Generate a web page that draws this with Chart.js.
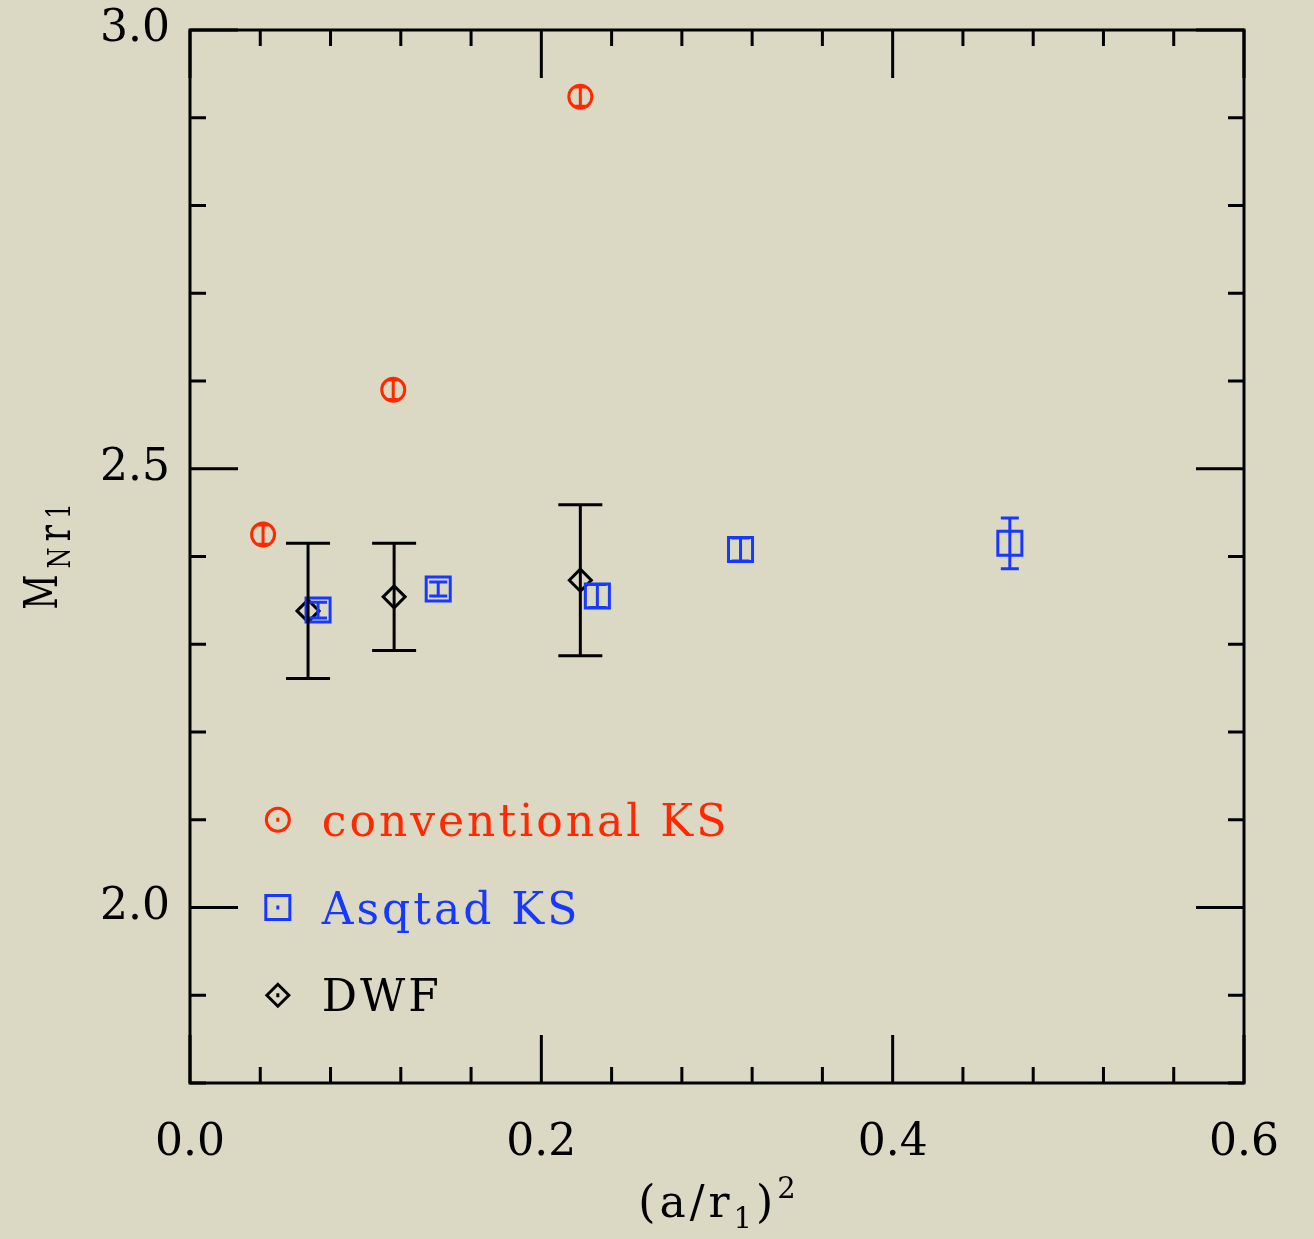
<!DOCTYPE html>
<html>
<head>
<meta charset="utf-8">
<script src="https://cdn.jsdelivr.net/npm/chart.js@4.4.1/dist/chart.umd.min.js"></script>
<style>
  html, body { margin: 0; padding: 0; background: #dbd9c3; }
  canvas { display: block; }
</style>
</head>
<body>
<canvas id="massChart" width="1314" height="1239"></canvas>
<script>
"use strict";

// DATA -----------------------
const seriesNames = ["conventional KS", "Asqtad KS", "DWF"];

const convX = [0.0416, 0.1157, 0.2222];
const convY = [2.425, 2.590, 2.924];
const convErr = [0.011, 0.011, 0.011];

const asqX = [0.0729, 0.1413, 0.2319, 0.3134, 0.4667];
const asqY = [2.339, 2.363, 2.355, 2.408, 2.415];
const asqErr = [0.009, 0.008, 0.013, 0.013, 0.029];

const dwfX = [0.0672, 0.1162, 0.2222];
const dwfY = [2.338, 2.354, 2.373];
const dwfErr = [0.077, 0.061, 0.086];

const xTickLabels = [0.0, 0.2, 0.4, 0.6];
const yTickLabels = [2.0, 2.5, 3.0];
const xTicks = [0.0, 0.04, 0.08, 0.12, 0.16, 0.2, 0.24, 0.28, 0.32, 0.36, 0.4, 0.44, 0.48, 0.52, 0.56, 0.6];
const yTicks = [1.8, 1.9, 2.0, 2.1, 2.2, 2.3, 2.4, 2.5, 2.6, 2.7, 2.8, 2.9, 3.0];

// STYLE -----------------------
const FONT = '"DejaVu Serif", serif';
const RED = 'rgb(255, 40, 0)';
const BLUE = 'rgb(24, 56, 255)';
const BLACK = '#000000';

function toPoints(xs, ys){
  return xs.map(function(x, i){ return {x: x, y: ys[i]}; });
}

function isMajor(v, step){
  return Math.abs(v / step - Math.round(v / step)) < 1e-6;
}

// draw a marker the same way chart.js does for circle / rect / rectRot
function marker(ctx, style, x, y, r){
  ctx.beginPath();
  if (style === 'circle') {
    ctx.arc(x, y, r, 0, Math.PI * 2);
  } else if (style === 'rect') {
    const s = Math.SQRT1_2 * r;
    ctx.rect(x - s, y - s, 2 * s, 2 * s);
  } else {
    ctx.moveTo(x - r, y);
    ctx.lineTo(x, y - r);
    ctx.lineTo(x + r, y);
    ctx.lineTo(x, y + r);
    ctx.closePath();
  }
  ctx.stroke();
}

// write a row of text pieces (sub/superscripts) centred on cx
function drawPieces(ctx, pieces, cx, baseY, gap, squeeze){
  let total = 0;
  pieces.forEach(function(p){
    ctx.font = p.size + 'px ' + FONT;
    p.w = ctx.measureText(p.t).width * squeeze;
    total += p.w;
  });
  total += gap * (pieces.length - 1);
  let x = cx - total / 2;
  pieces.forEach(function(p){
    ctx.save();
    ctx.font = p.size + 'px ' + FONT;
    ctx.translate(x, baseY + p.dy);
    ctx.scale(squeeze, 1);
    ctx.fillText(p.t, 0, 0);
    ctx.restore();
    x += p.w + gap;
  });
}

// PLUGINS -----------------------
const errorBars = {
  id: 'errorBars',
  afterDatasetsDraw(chart){
    const ctx = chart.ctx;
    const yScale = chart.scales.y;
    chart.data.datasets.forEach(function(ds, i){
      const meta = chart.getDatasetMeta(i);
      const half = ds.capWidth / 2;
      ctx.save();
      ctx.strokeStyle = ds.borderColor;
      ctx.lineWidth = 3;
      meta.data.forEach(function(pt, j){
        const top = yScale.getPixelForValue(ds.data[j].y + ds.errors[j]);
        const bot = yScale.getPixelForValue(ds.data[j].y - ds.errors[j]);
        ctx.beginPath();
        ctx.moveTo(pt.x, top); ctx.lineTo(pt.x, bot);
        ctx.moveTo(pt.x - half, top); ctx.lineTo(pt.x + half, top);
        ctx.moveTo(pt.x - half, bot); ctx.lineTo(pt.x + half, bot);
        ctx.stroke();
      });
      ctx.restore();
    });
  }
};

const frame = {
  id: 'frame',
  afterDraw(chart){
    const ctx = chart.ctx;
    const a = chart.chartArea;
    const xs = chart.scales.x, ys = chart.scales.y;
    const big = 48, small = 16;
    ctx.save();
    ctx.strokeStyle = BLACK;
    ctx.lineWidth = 3;
    ctx.lineCap = 'square';
    ctx.strokeRect(a.left, a.top, a.right - a.left, a.bottom - a.top);
    ctx.lineCap = 'butt';
    ctx.beginPath();
    xTicks.forEach(function(v){
      const px = xs.getPixelForValue(v);
      const len = isMajor(v, 0.2) ? big : small;
      ctx.moveTo(px, a.bottom); ctx.lineTo(px, a.bottom - len);
      ctx.moveTo(px, a.top); ctx.lineTo(px, a.top + len);
    });
    yTicks.forEach(function(v){
      const py = ys.getPixelForValue(v);
      const len = isMajor(v, 0.5) ? big : small;
      ctx.moveTo(a.left, py); ctx.lineTo(a.left + len, py);
      ctx.moveTo(a.right, py); ctx.lineTo(a.right - len, py);
    });
    ctx.stroke();
    ctx.restore();
  }
};

const innerLegend = {
  id: 'innerLegend',
  afterDraw(chart, args, opts){
    const ctx = chart.ctx;
    const xs = chart.scales.x, ys = chart.scales.y;
    chart.data.datasets.forEach(function(ds, i){
      const sx = xs.getPixelForValue(opts.symbolX);
      const tx = xs.getPixelForValue(opts.textX);
      const y = ys.getPixelForValue(opts.rows[i]);
      ctx.save();
      ctx.strokeStyle = ds.borderColor;
      ctx.fillStyle = ds.borderColor;
      ctx.lineWidth = 3;
      marker(ctx, ds.pointStyle, sx, y, ds.pointRadius);
      ctx.beginPath();
      ctx.moveTo(sx, y - 2); ctx.lineTo(sx, y + 2);
      ctx.stroke();
      ctx.font = '44px ' + FONT;
      ctx.letterSpacing = '3px';
      ctx.textBaseline = 'alphabetic';
      ctx.fillText(ds.label, tx, y + 16);
      ctx.restore();
    });
  }
};

const axisTitles = {
  id: 'axisTitles',
  afterDraw(chart){
    const ctx = chart.ctx;
    const a = chart.chartArea;
    ctx.save();
    ctx.fillStyle = BLACK;
    ctx.textBaseline = 'alphabetic';
    // x title: (a/r1)^2
    drawPieces(ctx, [
      {t: '(', size: 44, dy: 0},
      {t: 'a', size: 44, dy: 0},
      {t: '/', size: 44, dy: 0},
      {t: 'r', size: 44, dy: 0},
      {t: '1', size: 29, dy: 11},
      {t: ')', size: 44, dy: 0},
      {t: '2', size: 29, dy: -19}
    ], (a.left + a.right) / 2, 1217, 4, 1);
    // y title: M_N r_1, rotated
    ctx.translate(57, (a.top + a.bottom) / 2);
    ctx.rotate(-Math.PI / 2);
    drawPieces(ctx, [
      {t: 'M', size: 46, dy: 0},
      {t: 'N', size: 32, dy: 13},
      {t: 'r', size: 46, dy: 13},
      {t: '1', size: 33, dy: 13}
    ], 0, 0, 6, 0.75);
    ctx.restore();
  }
};

// CHART -----------------------
const massChart = new Chart(document.getElementById('massChart').getContext('2d'), {
  type: 'scatter',
  data: {
    datasets: [{
      label: seriesNames[0],
      data: toPoints(convX, convY),
      errors: convErr,
      capWidth: 10,
      pointStyle: 'circle',
      pointRadius: 11.5,
      pointBorderWidth: 3,
      borderColor: RED,
      backgroundColor: 'rgba(0,0,0,0)',
      order: 2
    }, {
      label: seriesNames[1],
      data: toPoints(asqX, asqY),
      errors: asqErr,
      capWidth: 18,
      pointStyle: 'rect',
      pointRadius: 17,
      pointBorderWidth: 3,
      borderColor: BLUE,
      backgroundColor: 'rgba(0,0,0,0)',
      order: 1
    }, {
      label: seriesNames[2],
      data: toPoints(dwfX, dwfY),
      errors: dwfErr,
      capWidth: 44,
      pointStyle: 'rectRot',
      pointRadius: 11,
      pointBorderWidth: 3,
      borderColor: BLACK,
      backgroundColor: 'rgba(0,0,0,0)',
      order: 3
    }]
  },
  options: {
    responsive: false,
    devicePixelRatio: 1,
    animation: false,
    events: [],
    layout: { padding: { top: 30, right: 70, bottom: 0, left: 0 } },
    plugins: {
      legend: { display: false },
      tooltip: { enabled: false },
      innerLegend: { symbolX: 0.05, textX: 0.075, rows: [2.1, 2.0, 1.9] }
    },
    scales: {
      x: {
        type: 'linear',
        min: 0,
        max: 0.6,
        grid: { display: false, drawTicks: false },
        border: { display: false },
        afterBuildTicks: function(s){ s.ticks = xTickLabels.map(function(v){ return {value: v}; }); },
        afterFit: function(s){ s.height = 156; s.paddingLeft = 0; s.paddingRight = 0; },
        ticks: {
          padding: 34,
          color: BLACK,
          maxRotation: 0,
          autoSkip: false,
          font: { family: FONT, size: 44 },
          callback: function(v){ return Number(v).toFixed(1); }
        }
      },
      y: {
        type: 'linear',
        min: 1.8,
        max: 3.0,
        grid: { display: false, drawTicks: false },
        border: { display: false },
        afterBuildTicks: function(s){ s.ticks = yTickLabels.map(function(v){ return {value: v}; }); },
        afterFit: function(s){ s.width = 190; s.paddingTop = 0; s.paddingBottom = 0; },
        ticks: {
          padding: 20,
          color: BLACK,
          autoSkip: false,
          font: { family: FONT, size: 44 },
          callback: function(v){ return Number(v).toFixed(1); }
        }
      }
    }
  },
  plugins: [frame, errorBars, innerLegend, axisTitles]
});
</script>
</body>
</html>
